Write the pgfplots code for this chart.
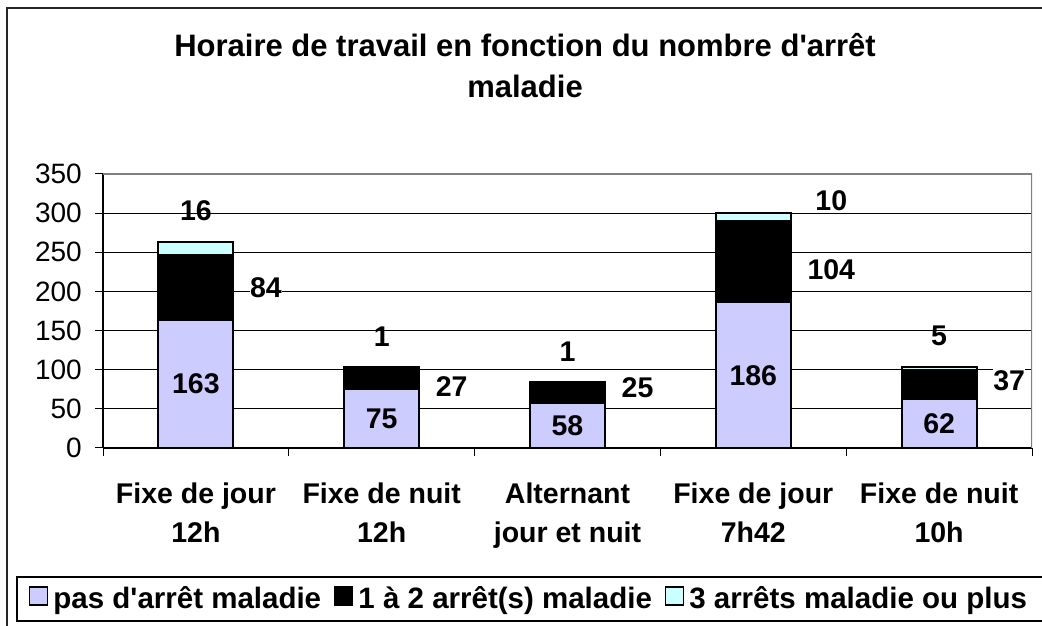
\documentclass[border=0pt]{standalone}
\usepackage{fontspec}
\setmainfont{Liberation Sans}
\newfontfamily\arial{Liberation Sans}
\usepackage{pgfplots}
\pgfplotsset{compat=1.18}
\usepackage{pgfplotstable}
\definecolor{lav}{HTML}{CCCCFF}
\definecolor{cya}{HTML}{CCFFFF}
\definecolor{bordergray}{HTML}{808080}
\newcommand{\lbl}{\arial\bfseries\fontsize{28.5}{39}\selectfont}
\newcommand{\leg}{\arial\bfseries\fontsize{29.5}{36}\selectfont}
\newcommand{\reg}{\arial\fontsize{28}{34}\selectfont}

% a, b, c: series values; mdy: vertical offset of the middle label (axis units)
\pgfplotstableread{
x a b c mdy
0 163 84 16 0
1 75 27 1 -10
2 58 25 1 6
3 186 104 10 -10
4 62 37 5 6
}\data

\begin{document}
\begin{tikzpicture}[x=1pt,y=1pt]
\useasboundingbox (0,0) rectangle (1042,626);
\draw[line width=1.5pt, black!85] (7,-10) -- (7,618) -- (1060,618);
\draw[line width=1.3pt] (17,5) rectangle (1060,49);
\begin{axis}[
  at={(103pt,178pt)}, anchor=south west,
  scale only axis, width=929pt, height=274pt,
  ybar stacked, bar width=75pt,
  xmin=-0.5, xmax=4.5, ymin=0, ymax=350,
  axis x line*=bottom, axis y line*=left,
  axis line style={-, black, line width=1.2pt},
  ytick={0,50,...,350},
  xtick={-0.5,0.5,1.5,2.5,3.5,4.5},
  x tick label as interval,
  xticklabels={{Fixe de jour\\12h},{Fixe de nuit\\12h},{Alternant\\jour et nuit},{Fixe de jour\\7h42},{Fixe de nuit\\10h}},
  tick align=outside, major tick length=8pt,
  tick style={black, line width=1pt},
  ymajorgrids, grid style={black, line width=0.9pt},
  /pgf/number format/assume math mode=true,
  yticklabel style={font=\reg, anchor=east, inner sep=0pt, xshift=-13pt},
  xticklabel style={font=\lbl, align=center, anchor=north, inner sep=0pt, yshift=-27pt},
  title={Horaire de travail en fonction du nombre d'arrêt\\maladie},
  title style={at={(0.4543,1)}, anchor=north, yshift=135pt, align=center, inner sep=0pt,
    font=\arial\bfseries\fontsize{31}{41}\selectfont},
  legend columns=3,
  legend style={at={(-0.0797,-0.5474)}, anchor=west, draw=none, fill=none, font=\leg,
    inner sep=0pt, nodes={inner sep=0pt},
    /tikz/every odd column/.append style={column sep=5pt},
    /tikz/every even column/.append style={column sep=13pt}},
  legend image code/.code={\draw[#1, line width=1.3pt] (0pt,-7pt) rectangle (18pt,11pt);},
]
\addplot[fill=lav, draw=black, line width=2pt] table[x=x, y=a]{\data};
\addplot[fill=black, draw=black, line width=2pt] table[x=x, y=b]{\data};
\addplot[fill=cya, draw=black, line width=2pt] table[x=x, y=c]{\data};
\legend{pas d'arrêt maladie, 1 à 2 arrêt(s) maladie, 3 arrêts maladie ou plus}
\draw[bordergray, line width=1.2pt] (rel axis cs:0,1) -- (rel axis cs:1,1) -- (rel axis cs:1,0);
\end{axis}
\begin{axis}[
  at={(103pt,178pt)}, anchor=south west,
  scale only axis, width=929pt, height=274pt,
  xmin=-0.5, xmax=4.5, ymin=0, ymax=350,
  hide axis, clip=false,
  /pgf/number format/assume math mode=true,
  nodes near coords, point meta=explicit,
]
\addplot[only marks, mark=*, mark size=0pt, mark options={draw=none, fill=none},
  nodes near coords style={anchor=center, inner sep=0pt, text=black, font=\lbl}]
  table[x=x, y expr=\thisrow{a}/2, meta=a]{\data};
\addplot[only marks, mark=*, mark size=0pt, mark options={draw=none, fill=none},
  nodes near coords style={anchor=west, xshift=54pt, fill=white, inner xsep=0pt, inner ysep=4pt, text=black, font=\lbl}]
  table[x=x, y expr=\thisrow{a}+\thisrow{b}/2+\thisrow{mdy}, meta=b]{\data};
\addplot[only marks, mark=*, mark size=0pt, mark options={draw=none, fill=none},
  x filter/.expression={x==3 ? nan : x},
  nodes near coords style={anchor=center, yshift=31pt, inner sep=0pt, text=black, font=\lbl}]
  table[x=x, y expr=\thisrow{a}+\thisrow{b}+\thisrow{c}, meta=c]{\data};
\addplot[only marks, mark=*, mark size=0pt, mark options={draw=none, fill=none},
  x filter/.expression={x==3 ? x : nan},
  nodes near coords style={anchor=center, xshift=78pt, yshift=12pt, inner sep=0pt, text=black, font=\lbl}]
  table[x=x, y expr=\thisrow{a}+\thisrow{b}+\thisrow{c}, meta=c]{\data};
\end{axis}
\end{tikzpicture}
\end{document}
